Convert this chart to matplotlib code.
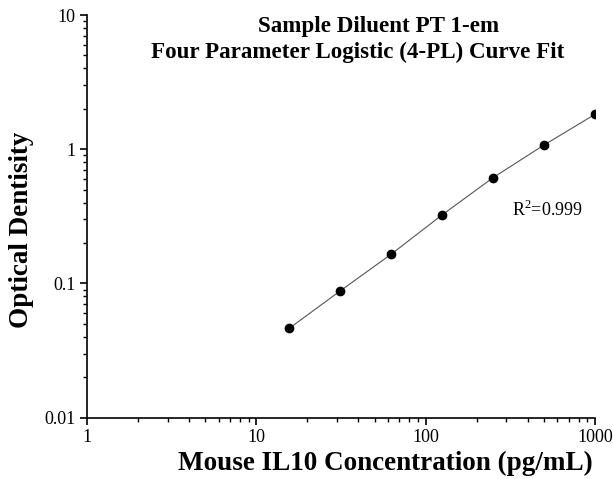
import matplotlib
matplotlib.use("Agg")
import matplotlib.pyplot as plt
from matplotlib.ticker import LogLocator, NullFormatter, FixedLocator, FixedFormatter

concentration = [15.625, 31.25, 62.5, 125, 250, 500, 1000]
optical_density = [0.0463, 0.0879, 0.165, 0.324, 0.614, 1.075, 1.82]

x_ticks = [1, 10, 100, 1000]
x_tick_labels = ["1", "10", "100", "1000"]
y_ticks = [0.01, 0.1, 1, 10]
y_tick_labels = ["0.01", "0.1", "1", "10"]

title_lines = ["Sample Diluent PT 1-em", "Four Parameter Logistic (4-PL) Curve Fit"]
x_label = "Mouse IL10 Concentration (pg/mL)"
y_label = "Optical Dentisity"
r2_text = "R$^2$=0.999"

plt.rcParams['font.family'] = ['Liberation Serif', 'DejaVu Serif']
plt.rcParams['mathtext.fontset'] = 'custom'
plt.rcParams['mathtext.rm'] = 'Liberation Serif'

fig = plt.figure(figsize=(6.13, 4.79), dpi=100)
ax = fig.add_axes([87/613, 1-417.7/479, 508/613, 402.7/479])

ax.plot(concentration, optical_density, color="#555555", lw=0.8, zorder=2)
ax.plot(concentration, optical_density, 'o', color="black", markersize=6, zorder=3)

ax.set_xscale('log')
ax.set_yscale('log')
ax.set_xlim(1, 1000)
ax.set_ylim(0.01, 10)

ax.xaxis.set_major_locator(FixedLocator(x_ticks))
ax.xaxis.set_major_formatter(FixedFormatter(x_tick_labels))
ax.yaxis.set_major_locator(FixedLocator(y_ticks))
ax.yaxis.set_major_formatter(FixedFormatter(y_tick_labels))
ax.xaxis.set_minor_locator(LogLocator(base=10, subs=range(2, 10)))
ax.yaxis.set_minor_locator(LogLocator(base=10, subs=range(2, 10)))
ax.xaxis.set_minor_formatter(NullFormatter())
ax.yaxis.set_minor_formatter(NullFormatter())

for s in ['top', 'right']:
    ax.spines[s].set_visible(False)
for s in ['left', 'bottom']:
    ax.spines[s].set_linewidth(1.2)

ax.tick_params(which='major', direction='out', length=5, width=1.2, labelsize=13, pad=3)
ax.tick_params(which='minor', direction='out', length=3, width=1.0)

fig.text(385/613, 1-470/479, x_label, ha='center', va='baseline', fontsize=19.5, fontweight='bold')
fig.text(22/613, 1-229.5/479, y_label, ha='center', va='center', rotation=90, fontsize=19.5, fontweight='bold')

fig.text(379/613, 1-32/479, title_lines[0], ha='center', va='baseline', fontsize=16.6, fontweight='bold')
fig.text(357.5/613, 1-58/479, title_lines[1], ha='center', va='baseline', fontsize=16.6, fontweight='bold')

ax.text(512/613, 1-210/479, r2_text, transform=fig.transFigure, ha='left', va='center', fontsize=13)

fig.savefig("out.png", dpi=100)
